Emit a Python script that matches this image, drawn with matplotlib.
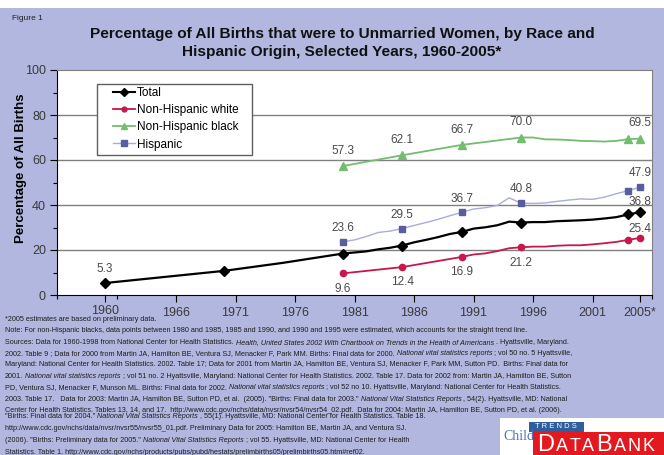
import matplotlib.pyplot as plt
from matplotlib.patches import Rectangle
from matplotlib.lines import Line2D
from matplotlib.transforms import ScaledTranslation

plt.rcParams['font.family'] = ['Liberation Sans', 'DejaVu Sans']

# percent of births to unmarried women
years_total = [1960, 1970, 1975, 1980, 1981, 1982, 1983, 1984, 1985, 1986, 1987,
               1988, 1989, 1990, 1991, 1992, 1993, 1994, 1995, 1996, 1997, 1998,
               1999, 2000, 2001, 2002, 2003, 2004, 2005]
total = [5.3, 10.7, 14.3, 18.4, 18.9, 19.4, 20.3, 21.0, 22.0, 23.4, 24.5,
         25.7, 27.1, 28.0, 29.5, 30.1, 31.0, 32.6, 32.2, 32.4, 32.4, 32.8,
         33.0, 33.2, 33.5, 34.0, 34.6, 35.8, 36.8]

years_white = [1980, 1985, 1990, 1991, 1992, 1993, 1994, 1995, 1996, 1997, 1998,
               1999, 2000, 2001, 2002, 2003, 2004, 2005]
nh_white = [9.6, 12.4, 16.9, 18.0, 18.5, 19.5, 20.8, 21.2, 21.5, 21.5, 21.9,
            22.1, 22.1, 22.5, 23.0, 23.6, 24.5, 25.4]

years_black = [1980, 1985, 1990, 1995, 1996, 1997, 1998, 1999, 2000, 2001, 2002,
               2003, 2004, 2005]
nh_black = [57.3, 62.1, 66.7, 70.0, 70.0, 69.2, 69.1, 68.9, 68.5, 68.4, 68.2,
            68.5, 69.3, 69.5]

years_hisp = list(range(1980, 2006))
hispanic = [23.6, 24.5, 26.0, 27.8, 28.4, 29.5, 30.9, 32.2, 33.6, 35.2, 36.7,
            38.2, 38.8, 39.8, 43.2, 40.8, 40.7, 40.9, 41.6, 42.2, 42.7, 42.5,
            43.5, 45.0, 46.4, 47.9]

mark_total = [1960, 1970, 1980, 1985, 1990, 1995, 2004, 2005]
mark_group = [1980, 1985, 1990, 1995, 2004, 2005]

x_ticks = [1960, 1966, 1971, 1976, 1981, 1986, 1991, 1996, 2001, 2005]
x_ticklabels = ['1960', '1966', '1971', '1976', '1981', '1986', '1991', '1996', '2001', '2005*']

footnotes = [
    [("*2005 estimates are based on preliminary data.", False)],
    [("Note: For non-Hispanic blacks, data points between 1980 and 1985, 1985 and 1990, and 1990 and 1995 were estimated, which accounts for the straight trend line.", False)],
    [("Sources: Data for 1960-1998 from National Center for Health Statistics.", False),
     ("Health, United States 2002 With Chartbook on Trends in the Health of Americans", True),
     (". Hyattsville, Maryland.", False)],
    [("2002. Table 9 ; Data for 2000 from Martin JA, Hamilton BE, Ventura SJ, Menacker F, Park MM. Births: Final data for 2000.", False),
     ("National vital statistics reports", True), ("; vol 50 no. 5 Hyattsville,", False)],
    [("Maryland: National Center for Health Statistics. 2002. Table 17; Data for 2001 from Martin JA, Hamilton BE, Ventura SJ, Menacker F, Park MM, Sutton PD.  Births: Final data for", False)],
    [("2001.", False), ("National vital statistics reports", True),
     ("; vol 51 no. 2 Hyattsville, Maryland: National Center for Health Statistics. 2002. Table 17. Data for 2002 from: Martin JA, Hamilton BE, Sutton", False)],
    [("PD, Ventura SJ, Menacker F, Munson ML. Births: Final data for 2002.", False),
     ("National vital statistics reports", True),
     ("; vol 52 no 10. Hyattsville, Maryland: National Center for Health Statistics.", False)],
    [("2003. Table 17.   Data for 2003: Martin JA, Hamilton BE, Sutton PD, et al.  (2005). \"Births: Final data for 2003.\"", False),
     ("National Vital Statistics Reports", True), (", 54(2). Hyattsville, MD: National", False)],
    [("Center for Health Statistics. Tables 13, 14, and 17.  http://www.cdc.gov/nchs/data/nvsr/nvsr54/nvsr54_02.pdf.  Data for 2004: Martin JA, Hamilton BE, Sutton PD, et al. (2006).", False)],
    [("\"Births: Final data for 2004.\"", False), ("National Vital Statistics Reports", True),
     (", 55(1). Hyattsville, MD: National Center for Health Statistics. Table 18.", False)],
    [("http://www.cdc.gov/nchs/data/nvsr/nvsr55/nvsr55_01.pdf. Preliminary Data for 2005: Hamilton BE, Martin JA, and Ventura SJ.", False)],
    [("(2006). \"Births: Preliminary data for 2005.\"", False), ("National Vital Statistics Reports", True),
     ("; vol 55. Hyattsville, MD: National Center for Health", False)],
    [("Statistics. Table 1. http://www.cdc.gov/nchs/products/pubs/pubd/hestats/prelimbirths05/prelimbirths05.htm#ref02.", False)],
]
foot_y = [319.5, 330.9, 342.3, 353.7, 365, 376.4, 387.8, 399.2, 410.4, 416.2, 428.4, 440.2, 452]

W, H = 664, 455
bg = '#B1B7DE'
fig = plt.figure(figsize=(W / 100, H / 100), dpi=100, facecolor=bg)
fig.patches.append(Rectangle((0, 1 - 8 / H), 1, 8 / H, transform=fig.transFigure,
                             facecolor='white', edgecolor='none', zorder=0))

ax = fig.add_axes([57 / W, 1 - 295 / H, 595 / W, 225 / H])
ax.set_facecolor('white')
ax.set_xlim(1956, 2006)
ax.set_ylim(0, 100)

for y in [20, 40, 60, 80]:
    ax.axhline(y, color='#808080', lw=1.0, zorder=1)

c_total, c_white, c_black = 'black', '#C8174A', '#72BE6E'
c_hisp_line, c_hisp_mark = '#A8ACDE', '#5A5CA0'


def idx(years, marks):
    return [years.index(m) for m in marks]


ax.plot(years_total, total, color=c_total, lw=1.6, marker='D', ms=5,
        markevery=idx(years_total, mark_total), zorder=4)
ax.plot(years_white, nh_white, color=c_white, lw=1.3, marker='o', ms=4.5,
        markevery=idx(years_white, mark_group), zorder=3)
ax.plot(years_black, nh_black, color=c_black, lw=1.3, marker='^', ms=5.5,
        markevery=idx(years_black, mark_group), zorder=3)
ax.plot(years_hisp, hispanic, color=c_hisp_line, lw=1.0, marker='s', ms=5,
        mfc=c_hisp_mark, mec=c_hisp_mark, markevery=idx(years_hisp, mark_group), zorder=3)

# value labels (year, offset in points)
series = {
    'total': (years_total, total, [(1960, 10), (2005, 7.5)]),
    'white': (years_white, nh_white, [(1980, -11.5), (1985, -11), (1990, -11), (1995, -11), (2005, 6.5)]),
    'black': (years_black, nh_black, [(1980, 10.5), (1985, 11), (1990, 11), (1995, 11), (2005, 11.5)]),
    'hisp': (years_hisp, hispanic, [(1980, 10), (1985, 10), (1990, 10), (1995, 10.5), (2005, 10)]),
}
for yrs, vals, labs in series.values():
    for yr, dy in labs:
        v = vals[yrs.index(yr)]
        ax.annotate(f'{v:.1f}', (yr, v), xytext=(0, dy), textcoords='offset points',
                    ha='center', va='center', fontsize=8.5, color='#4A4A4A',
                    annotation_clip=False, zorder=5)

for s in ['top', 'right']:
    ax.spines[s].set_color('#808080')
for s in ['left', 'bottom']:
    ax.spines[s].set_color('black')

ax.set_yticks(range(0, 101, 20))
ax.set_yticks(range(10, 100, 20), minor=True)
ax.set_xticks(x_ticks, x_ticklabels)
ax.set_xticks([1956, 1961, 2006], minor=True)
ax.tick_params(axis='both', which='major', direction='out', length=5, width=0.8,
               labelsize=9, labelcolor='#3A3A3A')
ax.tick_params(axis='both', which='minor', direction='out', length=3, width=0.8)
ax.tick_params(axis='x', pad=4)
ax.tick_params(axis='y', pad=3)
# first year label sits a little higher
for lab in ax.get_xticklabels():
    if lab.get_text() == '1960':
        lab.set_transform(lab.get_transform() + ScaledTranslation(0, 2 / 72, fig.dpi_scale_trans))

ax.set_ylabel('Percentage of All Births', fontsize=9.5, fontweight='bold')
ax.yaxis.set_label_coords(-0.050, 0.565)

# legend frame drawn separately so its padding can be set freely
ax.add_patch(Rectangle((0.0672, 0.6222), 0.2605, 0.3156, transform=ax.transAxes,
                       facecolor='white', edgecolor='#606060', lw=1.0, zorder=6))
handles = [
    Line2D([], [], color=c_total, lw=1.5, marker='D', ms=4),
    Line2D([], [], color=c_white, lw=1.3, marker='o', ms=3.5),
    Line2D([], [], color=c_black, lw=1.3, marker='^', ms=4.5),
    Line2D([], [], color=c_hisp_line, lw=1.0, marker='s', ms=4, mfc=c_hisp_mark, mec=c_hisp_mark),
]
leg = ax.legend(handles, ['Total', 'Non-Hispanic white', 'Non-Hispanic black', 'Hispanic'],
                loc='upper left', bbox_to_anchor=(0.0941, 0.926), fontsize=8.5,
                handlelength=1.86, handletextpad=0.15, labelspacing=0.45,
                borderpad=0, borderaxespad=0, frameon=False)
leg.set_zorder(7)

fig.text(12 / W, 1 - 19 / H, 'Figure 1', fontsize=6, color='#222222', va='center')
fig.text(342 / W, 1 - 43 / H,
         'Percentage of All Births that were to Unmarried Women, by Race and\n'
         'Hispanic Origin, Selected Years, 1960-2005*',
         fontsize=11.1, fontweight='bold', ha='center', va='center', linespacing=1.35,
         color='#111111')

# footnotes, with italic pieces laid out one after another
foot_font = ['Liberation Sans Narrow', 'Liberation Sans']
renderer = fig.canvas.get_renderer()
gap = 2.0
for parts, yp in zip(footnotes, foot_y):
    x = 5
    for text, it in parts:
        t = fig.text(x / W, 1 - yp / H, text, fontsize=5.25, family=foot_font,
                     style='italic' if it else 'normal', va='center', color='#1E1E1E')
        bb = t.get_window_extent(renderer)
        x = bb.x1 + gap

# logo box
fig.patches.append(Rectangle((500 / W, 0), 164 / W, 37 / H, transform=fig.transFigure,
                             facecolor='white', edgecolor='none'))
fig.text(503 / W, 1 - 437 / H, 'Child', fontsize=10, family='Liberation Serif',
         color='#4F76B0', va='center')
fig.patches.append(Rectangle((529 / W, 1 - 432 / H), 55 / W, 10 / H, transform=fig.transFigure,
                             facecolor='#2F5E9E', edgecolor='none'))
fig.text(556 / W, 1 - 427 / H, 'T R E N D S', fontsize=5.5, color='white',
         ha='center', va='center')
fig.patches.append(Rectangle((533 / W, 0), 131 / W, 23 / H, transform=fig.transFigure,
                             facecolor='#E3191F', edgecolor='none'))
# small-caps wordmark, one letter at a time with extra tracking
x = 537
for ch, size in zip('DATABANK', [17, 13, 13, 13, 17, 13, 13, 13]):
    t = fig.text(x / W, 1 - 451 / H, ch, fontsize=size, color='white', va='baseline')
    x = t.get_window_extent(renderer).x1 + 1.8

fig.savefig('out.png', dpi=100, facecolor=bg)
